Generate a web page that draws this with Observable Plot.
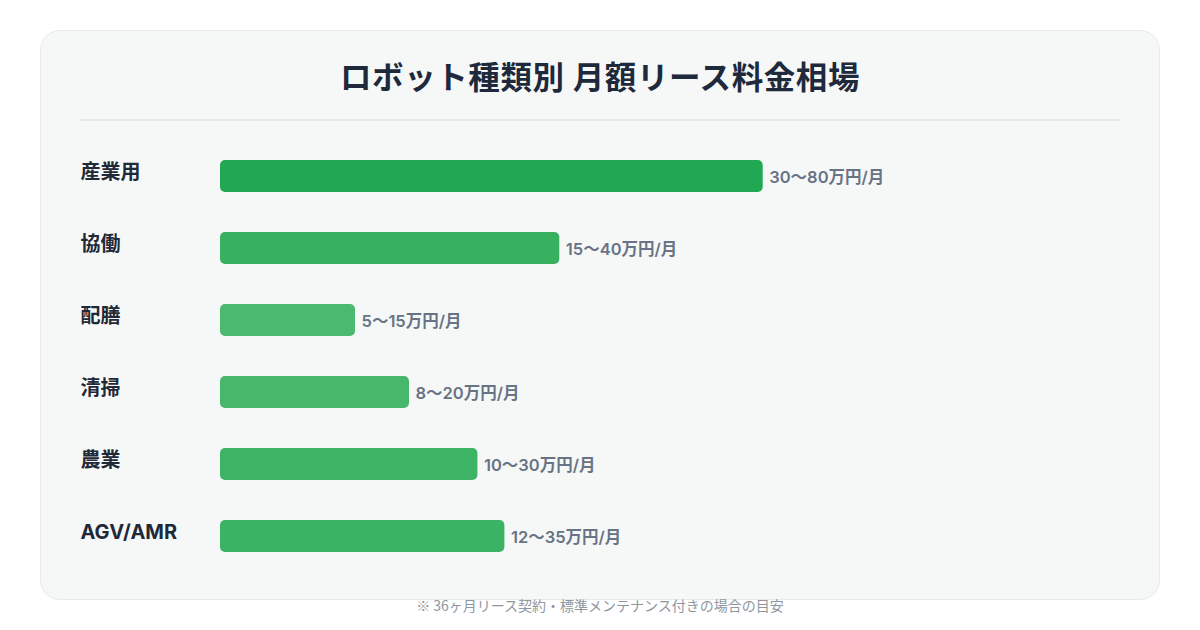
<!DOCTYPE html>
<html lang="ja">
<head>
<meta charset="utf-8">
<script src="https://cdn.jsdelivr.net/npm/d3@7"></script>
<script src="https://cdn.jsdelivr.net/npm/@observablehq/plot@0.6"></script>
<style>
  html, body { margin: 0; padding: 0; background: #ffffff; width: 1200px; height: 630px; overflow: hidden; }
  body { font-family: Inter, "Noto Sans CJK JP", "Noto Sans", sans-serif; position: relative; }
  #card { position: absolute; left: 40px; top: 30px; width: 1118px; height: 568px; background: #f6f8f8; border: 1px solid #e7eaec; border-radius: 20px; }
  #title { position: absolute; left: 0; top: 56px; width: 1200px; text-align: center; font-size: 31.5px; font-weight: 700; color: #1e293b; line-height: 44px; letter-spacing: 0.6px; }
  #rule { position: absolute; left: 80px; top: 119px; width: 1040px; height: 2px; background: #e6e9eb; }
  #chart { position: absolute; left: 0; top: 140px; }
  #note { position: absolute; left: 0; top: 595px; width: 1200px; text-align: center; font-family: "Noto Sans CJK JP", sans-serif; font-size: 14px; color: #8e969f; line-height: 20px; }
</style>
</head>
<body>
<div id="card"></div>
<div id="title">ロボット種類別 月額リース料金相場</div>
<div id="rule"></div>
<div id="chart"></div>
<div id="note">※ 36ヶ月リース契約・標準メンテナンス付きの場合の目安</div>
<script>
// Categories, bar lengths (% of track), value labels, colors
const categories = ["産業用", "協働", "配膳", "清掃", "農業", "AGV/AMR"];
const barLengths = [60.3, 37.7, 15.0, 21.0, 28.6, 31.6];
const rangeLabels = ["30〜80万円/月", "15〜40万円/月", "5〜15万円/月", "8〜20万円/月", "10〜30万円/月", "12〜35万円/月"];
const barColors = ["#22a853", "#37b060", "#4cb970", "#47b76c", "#3db465", "#3bb365"];

const rows = categories.map((c, i) => ({cat: c, v: barLengths[i], label: rangeLabels[i], color: barColors[i]}));

const chart = Plot.plot({
  width: 1200,
  height: 432,
  marginTop: 20,
  marginBottom: 20,
  marginLeft: 220,
  marginRight: 80,
  style: {background: "transparent", fontFamily: 'Inter, "Noto Sans CJK JP", sans-serif', overflow: "visible"},
  x: {domain: [0, 100], axis: null},
  y: {domain: categories, axis: null, paddingInner: 0.556, paddingOuter: 0},
  marks: [
    Plot.barX(rows, {x: "v", y: "cat", fill: "color", rx: 5}),
    Plot.text(rows, {x: "v", y: "cat", text: "label", textAnchor: "start", dx: 6, dy: 1, fill: "#687385", fontSize: 16.5, fontWeight: 600}),
    Plot.text(rows, {x: 0, y: "cat", text: "cat", textAnchor: "start", dx: -140, dy: -4, fill: "#1f2937", fontSize: 20, fontWeight: 700})
  ]
});
document.getElementById("chart").appendChild(chart);
</script>
</body>
</html>
